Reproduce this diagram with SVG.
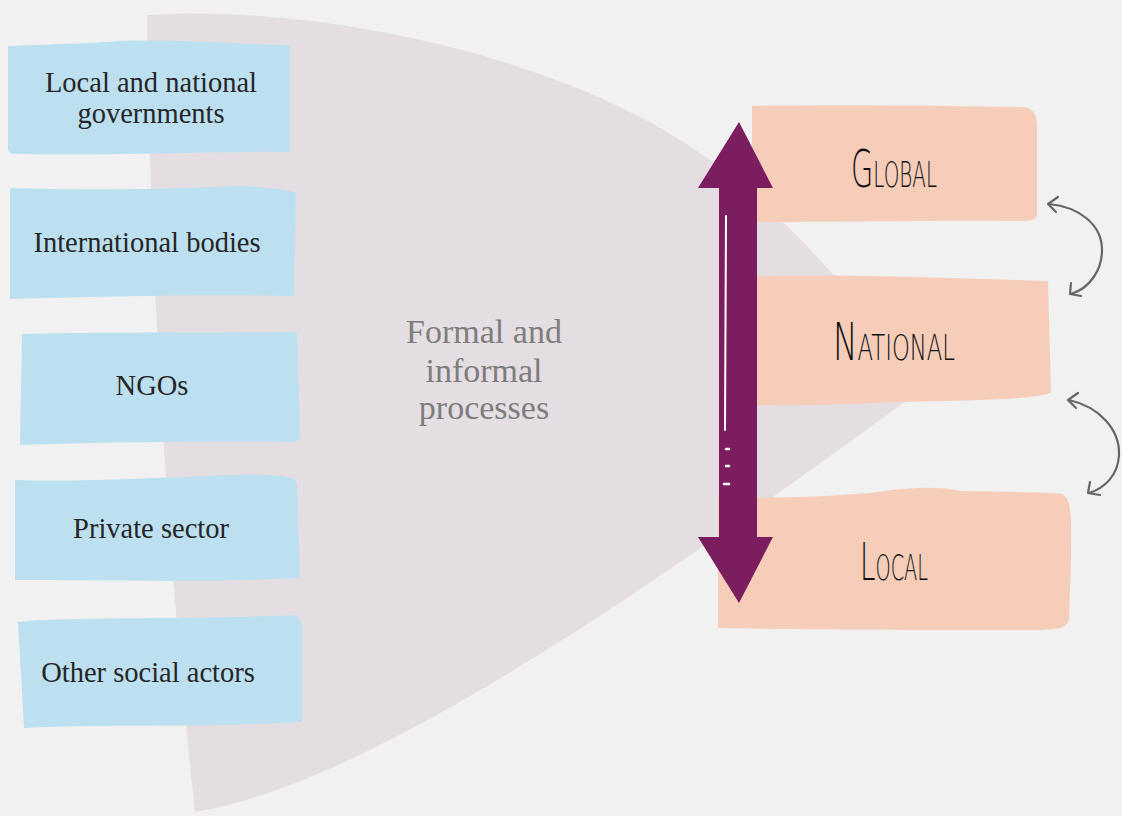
<svg xmlns="http://www.w3.org/2000/svg" width="1122" height="816" viewBox="0 0 1122 816">
<style>
.blue{fill:#bde0f1}
.orange{fill:#f5cdb9}
.lbl{font-family:"Liberation Serif","DejaVu Serif",serif;font-size:28.5px;fill:#262626;text-anchor:middle}
.mid{font-family:"Liberation Serif","DejaVu Serif",serif;font-size:34px;fill:#7d7d7d;text-anchor:middle}
.lvl{font-family:"DejaVu Sans","Liberation Sans",sans-serif;font-weight:200;font-variant:small-caps;font-size:52px;fill:#111;text-anchor:middle}
.curve{fill:none;stroke:#666;stroke-width:2.2;stroke-linecap:round;stroke-linejoin:round}
</style>
<rect width="1122" height="816" fill="#f1f1f1"/>
<g id="funnel">
<path d="M147,15 C300,4 560,50 710,160 C810,235 885,330 915,395 C760,505 400,780 195,812 C172,600 150,300 147,15 Z" fill="#e4dee3"/>
</g>
<g id="actor-governments">
<path class="blue" d="M8,46 C60,44 100,43 118,41 C180,39 250,45 290,45 L290,152 C220,151 100,156 14,154 C8,153 8,150 8,146 Z"/>
<text class="lbl" x="151" y="92">Local and national</text>
<text class="lbl" x="151" y="123">governments</text>
</g>
<g id="actor-international">
<path class="blue" d="M10,188 C80,190 150,190 240,186 C270,187 290,190 296,193 L294,296 C200,294 100,297 10,299 Z"/>
<text class="lbl" x="147" y="252">International bodies</text>
</g>
<g id="actor-ngos">
<path class="blue" d="M22,334 C80,332 200,333 297,332 L300,434 C302,440 296,442 290,442 C200,441 100,442 20,445 Z"/>
<text class="lbl" x="152" y="395">NGOs</text>
</g>
<g id="actor-private">
<path class="blue" d="M15,480 C80,482 150,478 230,475 C280,474 298,476 297,485 L300,578 C200,583 100,580 15,580 Z"/>
<text class="lbl" x="151" y="538">Private sector</text>
</g>
<g id="actor-other">
<path class="blue" d="M18,622 C80,616 200,620 292,615 C302,616 303,625 302,640 L302,722 C200,728 100,724 24,728 Z"/>
<text class="lbl" x="148" y="682">Other social actors</text>
</g>
<text class="mid" x="484" y="343">Formal and</text>
<text class="mid" x="484" y="382">informal</text>
<text class="mid" x="484" y="419">processes</text>
<g id="level-global">
<path class="orange" d="M752,106 C850,104 950,106 1025,107 C1035,110 1037,116 1037,126 L1037,216 C1036,220 1030,221 1020,221 C950,220 850,222 752,222 Z"/>
<text class="lvl" x="894" y="187" textLength="86" lengthAdjust="spacingAndGlyphs">Global</text>
</g>
<g id="level-national">
<path class="orange" d="M756,276 C850,274 950,278 1048,281 L1051,392 C1045,398 1000,400 900,402 C850,404 800,406 756,405 Z"/>
<text class="lvl" x="894" y="360" textLength="122" lengthAdjust="spacingAndGlyphs">National</text>
</g>
<g id="level-local">
<path class="orange" d="M718,496 C780,500 840,495 870,493 C900,488 940,485 960,491 C1000,492 1050,492 1062,494 C1073,500 1071,520 1071,560 L1069,618 C1068,628 1060,629 1040,630 C950,630 820,630 718,628 Z"/>
<text class="lvl" x="894" y="580" textLength="68" lengthAdjust="spacingAndGlyphs">Local</text>
</g>
<g id="connectors">
<path id="scale-arrow" d="M739,122 L773,188 L757,188 L757,537 L773,537 L739,603 L698,537 L719,537 L719,188 L698,188 Z" fill="#7b1d5f"/>
<path d="M726,216 L725,430" stroke="#fff" stroke-width="2" fill="none" stroke-linecap="round"/>
<path d="M726,449 L729,449 M726,466 L729,466 M724,484 L729,484" stroke="#fff" stroke-width="2.5" fill="none" stroke-linecap="round"/>
<path class="curve" d="M1049,204 C1080,207 1102,225 1102,250 C1102,270 1090,288 1071,294"/>
<path class="curve" d="M1058,197 L1048,204 L1056,212"/>
<path class="curve" d="M1071,283 L1070,294 L1081,296"/>
<path class="curve" d="M1069,400 C1100,407 1120,430 1119,455 C1118,475 1105,488 1089,493"/>
<path class="curve" d="M1078,393 L1068,400 L1076,408"/>
<path class="curve" d="M1090,482 L1088,493 L1100,495"/>
</g>
</svg>
